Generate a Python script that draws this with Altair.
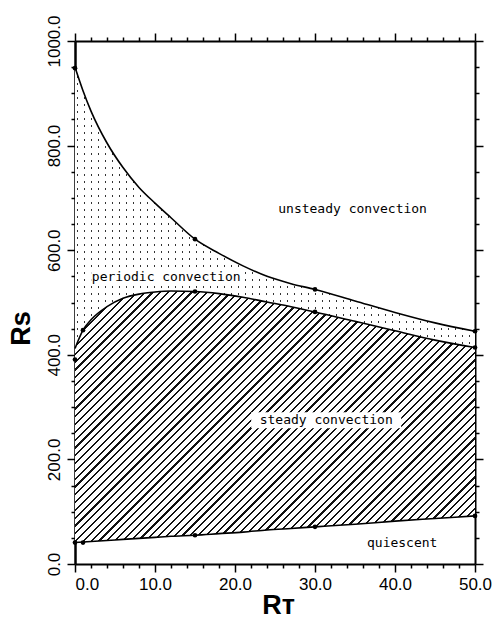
import math
import altair as alt
import pandas as pd

# ---------------- data ----------------
rt_grid   = [0, 1, 2, 4, 6, 8, 10, 12, 15, 18, 21, 24, 27, 30, 35, 40, 45, 50]
rs_upper  = [950, 905, 866, 805, 758, 720, 690, 662, 621, 594, 570, 550, 536, 525, 503, 481, 461, 445]
rs_lower  = [412, 447, 467, 492, 508, 516, 520, 522, 521, 517, 510, 501, 492, 482, 464, 446, 428, 414]
rs_bottom = [41, 42, 43, 45, 47, 49, 51, 53, 55, 58, 61, 65, 68, 71, 76, 82, 87, 92]

pt_rt = [0, 15, 30, 50, 0, 1, 15, 30, 50, 0, 1, 15, 30, 50]
pt_rs = [948, 621, 525, 445, 391, 447, 521, 482, 414, 41, 41, 55, 71, 92]

label_text = ["unsteady convection", "periodic convection", "steady convection", "quiescent"]
label_rt   = [34.7, 11.4, 31.4, 40.9]
label_rs   = [679, 549, 275, 40]
label_box  = [False, True, True, False]

x_ticks = list(range(0, 51, 2))
y_ticks = list(range(0, 1001, 50))

# ---------------- layout ----------------
W, H = 400, 523
XD, YD = [0, 50], [0, 1000]
px_x = W / (XD[1] - XD[0])
px_y = H / (YD[1] - YD[0])

curves = pd.DataFrame({"rt": rt_grid, "upper": rs_upper, "lower": rs_lower, "bottom": rs_bottom})
points = pd.DataFrame({"rt": pt_rt, "rs": pt_rs})
labels = pd.DataFrame({"text": label_text, "rt": label_rt, "rs": label_rs, "box": label_box})

xs = alt.Scale(domain=XD, nice=False, zero=False)
ys = alt.Scale(domain=YD, nice=False, zero=False)

# ---------------- fill styles (gradients used as textures) ----------------
def hatch_gradient(w, h, spacing=7.8, lw=2.2, color="#111111"):
    k = 1.2
    D = k * (w * w + h * h) / w
    stops = []
    n = int(math.ceil(D / spacing)) + 1
    for i in range(n):
        a = i * spacing / D
        b = (i * spacing + lw) / D
        c = (i + 1) * spacing / D
        if a > 1:
            break
        stops += [
            alt.GradientStop(offset=min(a, 1), color=color),
            alt.GradientStop(offset=min(b, 1), color=color),
            alt.GradientStop(offset=min(b, 1), color="white"),
            alt.GradientStop(offset=min(c, 1), color="white"),
        ]
    return alt.LinearGradient(gradient="linear", stops=stops, x1=0, y1=0, x2=k, y2=k * h / w)


def stripe_gradient(length, period, band, band_color, other_color, vertical_stripes):
    stops = []
    n = int(math.ceil(length / period)) + 1
    for i in range(n):
        a = (i * period + 2) / length
        b = (i * period + 2 + band) / length
        c = ((i + 1) * period + 2) / length
        if a > 1:
            break
        if i == 0:
            stops.append(alt.GradientStop(offset=0, color=other_color))
        stops += [
            alt.GradientStop(offset=min(a, 1), color=other_color),
            alt.GradientStop(offset=min(a, 1), color=band_color),
            alt.GradientStop(offset=min(b, 1), color=band_color),
            alt.GradientStop(offset=min(b, 1), color=other_color),
            alt.GradientStop(offset=min(c, 1), color=other_color),
        ]
    if vertical_stripes:
        return alt.LinearGradient(gradient="linear", stops=stops, x1=0, y1=0, x2=1, y2=0)
    return alt.LinearGradient(gradient="linear", stops=stops, x1=0, y1=0, x2=0, y2=1)


hatch_h = (max(rs_lower) - min(rs_bottom)) * px_y
stip_h = (max(rs_upper) - min(rs_lower)) * px_y

hatch_fill = hatch_gradient(W, hatch_h)
dots_v = stripe_gradient(W, 7.0, 1.4, "#333333", "white", True)
dots_h = stripe_gradient(stip_h, 7.0, 1.4, "rgba(255,255,255,0)", "white", False)

# ---------------- axes ----------------
tick_big_x = {"condition": {"test": "datum.value % 10 === 0", "value": 8}, "value": 4}
tick_big_y = {"condition": {"test": "datum.value % 200 === 0", "value": 8}, "value": 4}

FONT = "Liberation Sans"

x_bottom = alt.Axis(
    orient="bottom", values=x_ticks, grid=False, labelOverlap=False,
    labelExpr="datum.value % 10 === 0 ? format(datum.value, '.1f') : ''",
    tickSize=tick_big_x, tickColor="black", tickWidth=1.5,
    domainColor="black", domainWidth=2,
    labelFont=FONT, labelFontSize=17, labelColor="black", labelPadding=4,
    labelAlign={"condition": {"test": "datum.value === 0", "value": "left"}, "value": "center"},
    labelFlush=False,
    title="Rᴛ", titleFont=FONT, titleFontSize=27, titleFontWeight="bold", titleColor="black",
    titleX=203, titleY=41, titleBaseline="middle", titleAlign="center",
)
y_left = alt.Axis(
    orient="left", values=y_ticks, grid=False, labelOverlap=False,
    labelExpr="datum.value % 200 === 0 ? format(datum.value, '.1f') : ''",
    tickSize=tick_big_y, tickColor="black", tickWidth=1.5,
    domainColor="black", domainWidth=2.5,
    labelFont=FONT, labelFontSize=17, labelColor="black", labelPadding=4,
    labelAngle=270, labelAlign="center", labelBaseline="bottom",
    title="Rs", titleFont=FONT, titleFontSize=27, titleFontWeight="bold", titleColor="black",
    titleAngle=270, titleX=-54, titleY=287, titleAlign="center", titleBaseline="middle",
)
x_top = alt.Axis(
    orient="top", values=x_ticks, grid=False, labels=False, title=None,
    tickSize=tick_big_x, tickColor="black", tickWidth=1.5,
    domainColor="black", domainWidth=2,
)
y_right = alt.Axis(
    orient="right", values=y_ticks, grid=False, labels=False, title=None,
    tickSize=tick_big_y, tickColor="black", tickWidth=1.5,
    domainColor="black", domainWidth=2,
)

# ---------------- layers ----------------
base = alt.Chart(curves)

hatch = base.mark_area(fill=hatch_fill, interpolate="monotone").encode(
    x=alt.X("rt:Q", scale=xs, axis=x_bottom),
    y=alt.Y("lower:Q", scale=ys, axis=y_left),
    y2="bottom:Q",
)
stip1 = base.mark_area(fill=dots_v, interpolate="monotone").encode(
    x=alt.X("rt:Q", scale=xs, axis=None),
    y=alt.Y("upper:Q", scale=ys, axis=None),
    y2="lower:Q",
)
stip2 = base.mark_area(fill=dots_h, interpolate="monotone").encode(
    x=alt.X("rt:Q", scale=xs, axis=None),
    y=alt.Y("upper:Q", scale=ys, axis=None),
    y2="lower:Q",
)

lines = base.transform_fold(["upper", "lower", "bottom"], as_=["curve", "rs"]).mark_line(
    color="black", strokeWidth=1.6, interpolate="monotone"
).encode(
    x=alt.X("rt:Q", scale=xs, axis=x_top),
    y=alt.Y("rs:Q", scale=ys, axis=y_right),
    detail="curve:N",
)

dots = alt.Chart(points).mark_circle(color="black", size=22, opacity=1).encode(
    x=alt.X("rt:Q", scale=xs, axis=None),
    y=alt.Y("rs:Q", scale=ys, axis=None),
)

boxes = alt.Chart(labels).transform_filter("datum.box").mark_rect(
    color="white", width=150, height=16
).encode(
    x=alt.X("rt:Q", scale=xs, axis=None),
    y=alt.Y("rs:Q", scale=ys, axis=None),
)

texts = alt.Chart(labels).mark_text(
    font="DejaVu Sans Mono", fontSize=13, color="black", align="center", baseline="middle"
).encode(
    x=alt.X("rt:Q", scale=xs, axis=None),
    y=alt.Y("rs:Q", scale=ys, axis=None),
    text="text:N",
)

chart = alt.layer(hatch, stip1, stip2, lines, boxes, texts, dots).resolve_axis(
    x="independent", y="independent"
).properties(
    width=W, height=H,
    autosize=alt.AutoSizeParams(type="none"),
    padding={"left": 75, "top": 41, "right": 23, "bottom": 57},
    background="white",
).configure_view(strokeWidth=0)

chart.save("out.html", embed_options={"renderer": "svg", "actions": False})
